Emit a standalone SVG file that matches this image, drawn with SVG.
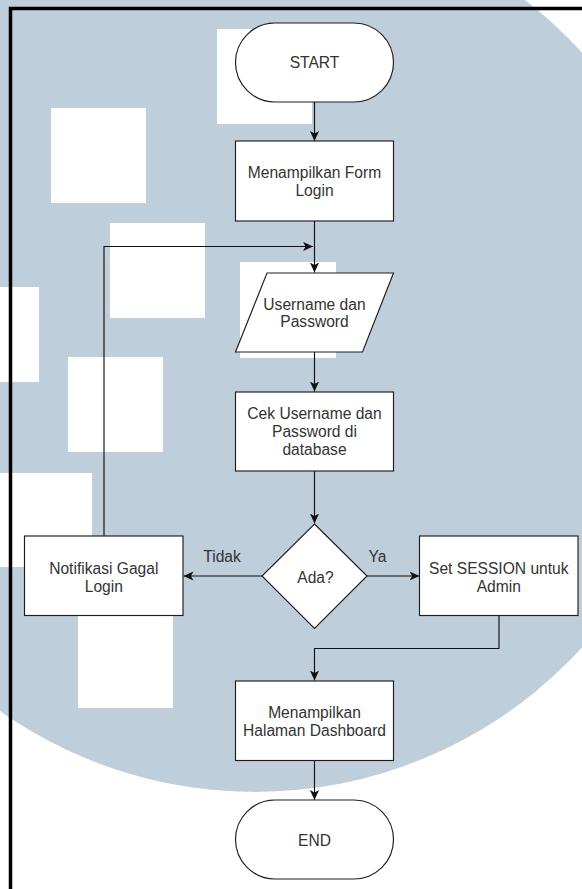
<svg xmlns="http://www.w3.org/2000/svg" width="582" height="889" viewBox="0 0 582 889">
  <style>
    .shape { fill: #ffffff; stroke: #1e1e1e; stroke-width: 1.15; }
    .label { font-family: "Liberation Sans", Arial, Helvetica, sans-serif; font-size: 15.6px; fill: #333333; text-anchor: middle; }
    .edge { fill: none; stroke: #111111; stroke-width: 1.15; }
    .tile { fill: #ffffff; }
  </style>
  <defs>
    <marker id="arrow" markerUnits="userSpaceOnUse" viewBox="0 0 10 10" markerWidth="10" markerHeight="10" refX="10" refY="5" orient="auto">
      <path d="M0,0.4 L10,5 L0,9.6 L2.6,5 Z" fill="#111111"/>
    </marker>
  </defs>

  <!-- backdrop: large tinted disc with white tiles -->
  <g id="backdrop">
    <rect x="0" y="0" width="582" height="889" fill="#ffffff"/>
    <circle cx="255" cy="350" r="442" fill="#bfcedb"/>
    <rect class="tile" x="217" y="29" width="95" height="95"/>
    <rect class="tile" x="51" y="108" width="95" height="95"/>
    <rect class="tile" x="110" y="223" width="95" height="95"/>
    <rect class="tile" x="-56" y="287" width="95" height="95"/>
    <rect class="tile" x="68" y="357" width="95" height="95"/>
    <rect class="tile" x="-3" y="473" width="95" height="94"/>
    <rect class="tile" x="78" y="613" width="95" height="95"/>
    <rect class="tile" x="240" y="262" width="96" height="96"/>
  </g>

  <!-- page frame -->
  <path d="M10.5,889 V8.5 H582" fill="none" stroke="#000000" stroke-width="3.5"/>

  <!-- connectors -->
  <g id="connectors">
    <path class="edge" d="M314.5,102 V141" marker-end="url(#arrow)"/>
    <path class="edge" d="M314.5,221 V272.5" marker-end="url(#arrow)"/>
    <path class="edge" d="M104,536 V246.5 H313" marker-end="url(#arrow)"/>
    <path class="edge" d="M314.5,352 V391.5" marker-end="url(#arrow)"/>
    <path class="edge" d="M314.5,471 V523.5" marker-end="url(#arrow)"/>
    <path class="edge" d="M262,576 H183.5" marker-end="url(#arrow)"/>
    <path class="edge" d="M367,576 H419.5" marker-end="url(#arrow)"/>
    <path class="edge" d="M499,616 V648.5 H314.5 V680.5" marker-end="url(#arrow)"/>
    <path class="edge" d="M314.5,761 V800" marker-end="url(#arrow)"/>
    <text class="label" x="222" y="562.3">Tidak</text>
    <text class="label" x="377.5" y="562.3">Ya</text>
  </g>

  <g id="start">
    <rect class="shape" x="235.5" y="23" width="158" height="79" rx="39.5" ry="39.5"/>
    <text class="label" x="314.5" y="68.3">START</text>
  </g>

  <g id="form-login">
    <rect class="shape" x="235.5" y="141" width="158" height="80"/>
    <text class="label" x="314.5" y="178">Menampilkan Form</text>
    <text class="label" x="314.5" y="196">Login</text>
  </g>

  <g id="input-credentials">
    <polygon class="shape" points="267,273 393.5,273 362.5,352 235.5,352"/>
    <text class="label" x="314.5" y="309.5">Username dan</text>
    <text class="label" x="314.5" y="327">Password</text>
  </g>

  <g id="check-database">
    <rect class="shape" x="235.5" y="392" width="158" height="79"/>
    <text class="label" x="314.5" y="418.5">Cek Username dan</text>
    <text class="label" x="314.5" y="436.8">Password di</text>
    <text class="label" x="314.5" y="455">database</text>
  </g>

  <g id="decision">
    <polygon class="shape" points="314.5,524 367,576 314.5,628.5 262,576"/>
    <text class="label" x="315.5" y="583.3">Ada?</text>
  </g>

  <g id="login-failed">
    <rect class="shape" x="24.5" y="536" width="158.5" height="79.5"/>
    <text class="label" x="103.8" y="574">Notifikasi Gagal</text>
    <text class="label" x="103.8" y="592.3">Login</text>
  </g>

  <g id="set-session">
    <rect class="shape" x="419.5" y="536" width="158.5" height="79.5"/>
    <text class="label" x="498.8" y="574">Set SESSION untuk</text>
    <text class="label" x="498.8" y="592.3">Admin</text>
  </g>

  <g id="dashboard">
    <rect class="shape" x="235.5" y="681" width="158" height="79.5"/>
    <text class="label" x="314.5" y="718.3">Menampilkan</text>
    <text class="label" x="314.5" y="736.3">Halaman Dashboard</text>
  </g>

  <g id="end">
    <rect class="shape" x="235.5" y="800" width="158" height="79" rx="39.5" ry="39.5"/>
    <text class="label" x="314.5" y="845.5">END</text>
  </g>
</svg>
